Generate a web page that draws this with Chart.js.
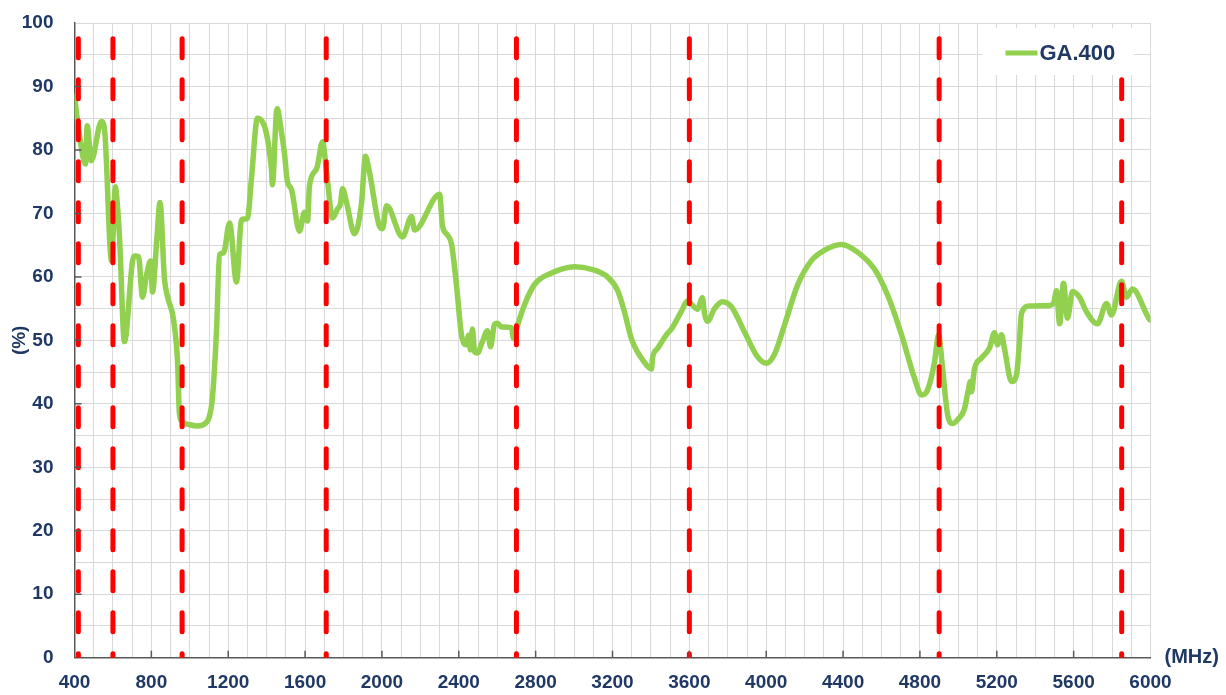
<!DOCTYPE html>
<html>
<head>
<meta charset="utf-8">
<script src="https://cdn.jsdelivr.net/npm/chart.js@4"></script>
<style>
  html, body { margin: 0; padding: 0; background: #fff; }
  #wrap { width: 1226px; height: 695px; }
</style>
</head>
<body>
<div id="wrap"><canvas id="myChart" width="1226" height="695"></canvas></div>
<script>
// frequency (MHz) and efficiency (%)
const freqMHz = [
  400, 425, 457, 466, 487, 540, 556, 593, 613, 620, 634, 660, 702, 712, 733, 754, 775, 796, 806, 827,
  845, 868, 884, 910, 921, 936, 946, 960, 1000, 1040, 1080, 1100, 1118, 1139, 1155, 1176, 1207, 1243, 1269, 1300,
  1321, 1352, 1425, 1430, 1451, 1456, 1472, 1493, 1508, 1529, 1571, 1597, 1613, 1623, 1660, 1691, 1712, 1743, 1769, 1784,
  1795, 1816, 1857, 1894, 1914, 1935, 1987, 2003, 2024, 2107, 2154, 2170, 2300, 2315, 2341, 2362, 2388, 2414, 2440, 2451,
  2461, 2471, 2482, 2497, 2523, 2549, 2565, 2586, 2601, 2622, 2674, 2685, 2700, 2742, 2794, 2883, 3002, 3091, 3174, 3226,
  3262, 3299, 3367, 3403, 3408, 3434, 3486, 3507, 3559, 3590, 3642, 3668, 3679, 3694, 3731, 3772, 3819, 3887, 3955, 4002,
  4043, 4095, 4163, 4236, 4303, 4392, 4475, 4564, 4632, 4704, 4772, 4808, 4840, 4876, 4897, 4918, 4944, 4970, 4996, 5032,
  5048, 5063, 5068, 5084, 5120, 5162, 5188, 5204, 5225, 5240, 5277, 5303, 5315, 5329, 5370, 5474, 5495, 5511, 5527, 5547,
  5568, 5594, 5630, 5667, 5724, 5771, 5797, 5849, 5875, 5906, 5995, 6000
];
const efficiency = [
  88.5, 82.5, 77.8, 83.8, 78.3, 84.5, 83.3, 62.5, 74.2, 72.5, 66.5, 49.8, 62.5, 63.3, 63.2, 56.8, 60.3, 62.5, 57.6, 65.3,
  71.7, 59.8, 56.9, 54.2, 52.0, 46.9, 38.5, 37.2, 36.7, 36.5, 36.9, 37.8, 41.0, 51.5, 63.5, 63.8, 68.5, 59.2, 69.0, 69.2,
  75.5, 85.0, 77.0, 74.5, 86.0, 86.5, 83.8, 79.4, 75.0, 73.8, 67.2, 70.2, 68.8, 74.4, 77.0, 81.3, 76.5, 69.3, 70.7, 71.5,
  73.9, 71.7, 66.8, 71.7, 79.0, 76.5, 68.0, 67.6, 71.2, 66.3, 69.5, 67.4, 73.0, 68.1, 66.6, 65.2, 58.7, 50.9, 49.3, 50.8,
  48.5, 51.8, 48.2, 48.0, 49.8, 51.5, 49.0, 52.5, 52.7, 52.1, 52.0, 50.3, 51.8, 55.6, 58.8, 60.6, 61.6, 61.2, 60.0, 57.9,
  54.5, 50.2, 46.5, 45.5, 47.2, 48.7, 51.1, 51.8, 54.6, 56.2, 54.9, 56.7, 54.2, 53.0, 55.0, 56.1, 55.3, 51.3, 47.4, 46.4,
  47.8, 52.4, 58.7, 62.6, 64.2, 65.1, 63.9, 61.2, 57.1, 50.9, 44.0, 41.4, 42.2, 46.6, 50.9, 45.5, 38.3, 36.9, 37.5, 39.2,
  41.6, 43.5, 41.9, 45.5, 47.2, 48.8, 51.2, 49.3, 50.9, 48.7, 43.5, 44.6, 48.5, 54.3, 55.4, 55.5, 55.8, 57.8, 52.6, 59.0,
  53.5, 57.7, 56.8, 54.5, 52.6, 55.8, 54.0, 59.3, 56.8, 58.1, 53.3, 53.2
];
// band edges marked with red dashed lines (MHz)
const bandMarkers = [420, 600, 960, 1710, 2700, 3600, 4900, 5850];
const seriesName = 'GA.400';

const navy = '#1F3864';
const labelFont = { family: "'Liberation Sans', Arial, sans-serif", size: 19, weight: 'bold' };

const markerSets = bandMarkers.map(f => ({
  label: 'band ' + f,
  data: [{ x: f, y: 97.5 }, { x: f, y: 0 }],
  borderColor: '#FF0000',
  borderWidth: 5,
  borderDash: [19, 22],
  borderCapStyle: 'round',
  pointRadius: 0,
  order: 0
}));

const extras = {
  id: 'extras',
  afterDatasetsDraw(chart) {
    const ctx = chart.ctx;
    const xs = chart.scales.x, ys = chart.scales.y;
    const a = chart.chartArea;
    ctx.save();
    // inward tick marks
    ctx.strokeStyle = '#595959';
    ctx.lineWidth = 1.5;
    ctx.beginPath();
    for (let v = 800; v < 6000; v += 400) {
      const px = xs.getPixelForValue(v);
      ctx.moveTo(px, a.bottom); ctx.lineTo(px, a.bottom - 7);
    }
    for (let v = 10; v < 100; v += 10) {
      const py = ys.getPixelForValue(v);
      ctx.moveTo(a.left, py); ctx.lineTo(a.left + 7, py);
    }
    ctx.stroke();
    // legend box
    const ds = chart.data.datasets.find(d => d.label === seriesName);
    ctx.fillStyle = '#fff';
    ctx.fillRect(a.right - 168, a.top + 5, 151, 47);
    ctx.strokeStyle = ds.borderColor;
    ctx.lineWidth = 5;
    ctx.beginPath();
    ctx.moveTo(a.right - 145, a.top + 30);
    ctx.lineTo(a.right - 113, a.top + 30);
    ctx.stroke();
    ctx.fillStyle = navy;
    ctx.font = 'bold 22px ' + labelFont.family;
    ctx.textBaseline = 'middle';
    ctx.textAlign = 'left';
    ctx.fillText(ds.label, a.right - 111, a.top + 31);
    // x unit
    ctx.font = 'bold 20px ' + labelFont.family;
    ctx.fillText('(MHz)', a.right + 14, a.bottom);
    ctx.restore();
  }
};

new Chart(document.getElementById('myChart'), {
  type: 'line',
  data: {
    datasets: [
      ...markerSets,
      {
        label: seriesName,
        data: freqMHz.map((f, i) => ({ x: f, y: efficiency[i] })),
        borderColor: '#92D050',
        borderWidth: 5.5,
        borderJoinStyle: 'round',
        borderCapStyle: 'round',
        cubicInterpolationMode: 'monotone',
        pointRadius: 0,
        order: 1
      }
    ]
  },
  options: {
    responsive: false,
    animation: false,
    devicePixelRatio: 1,
    layout: { padding: { top: 23, right: 75.5, left: 0, bottom: 0 } },
    plugins: { legend: { display: false }, tooltip: { enabled: false } },
    scales: {
      x: {
        type: 'linear',
        min: 400, max: 6000,
        afterFit(s) { s.height = 37.3; },
        grid: { color: '#D9D9D9', lineWidth: 1, drawTicks: false },
        border: { color: '#595959', width: 1.5 },
        ticks: {
          stepSize: 100, autoSkip: false, maxRotation: 0, padding: 14,
          color: navy, font: labelFont,
          callback: v => (v % 400 === 0 ? v : '')
        }
      },
      y: {
        min: 0, max: 100,
        afterFit(s) { s.width = 74.5; },
        grid: { color: '#D9D9D9', lineWidth: 1, drawTicks: true, tickLength: 21, tickColor: 'rgba(0,0,0,0)' },
        border: { color: '#595959', width: 1.5 },
        title: { display: true, text: '(%)', color: navy, font: { ...labelFont, size: 19 }, padding: { top: 8, bottom: 0 } },
        ticks: {
          stepSize: 5, autoSkip: false, padding: 0,
          color: navy, font: labelFont,
          callback: v => (v % 10 === 0 ? v : '')
        }
      }
    }
  },
  plugins: [extras]
});
</script>
</body>
</html>
